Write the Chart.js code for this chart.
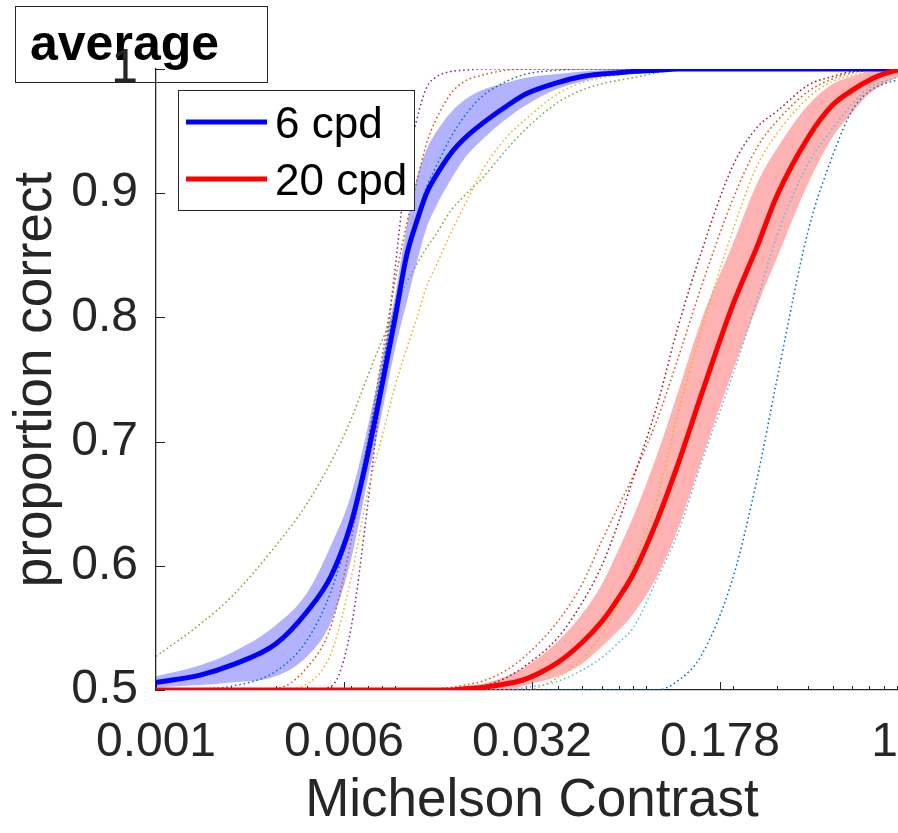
<!DOCTYPE html>
<html>
<head>
<meta charset="utf-8">
<title>average</title>
<script src="https://cdn.jsdelivr.net/npm/chart.js@4.4.1/dist/chart.umd.min.js"></script>
<style>
  html, body { margin: 0; padding: 0; overflow: hidden; background: #fff; }
  #wrap { width: 910px; height: 833px; }
</style>
</head>
<body>
<div id="wrap"><canvas id="psyChart" width="910" height="833"></canvas></div>
<script>
// ---- data ----
const panelTitle = "average";
const contrast = [0.001, 0.0015, 0.002, 0.003, 0.004, 0.005, 0.006, 0.007, 0.008, 0.009,
  0.01, 0.011, 0.012, 0.013, 0.015, 0.017, 0.02, 0.025, 0.03, 0.04,
  0.05, 0.06, 0.07, 0.08, 0.1, 0.12, 0.15, 0.2, 0.25, 0.3,
  0.4, 0.5, 0.6, 0.7, 0.8, 0.9, 1];

const xTickValues = [0.001, 0.0056234, 0.0316228, 0.1778279, 1];
const xTickLabels = ["0.001", "0.006", "0.032", "0.178", "1"];
const yTickValues = [0.5, 0.6, 0.7, 0.8, 0.9, 1];
const yTickLabels = ["0.5", "0.6", "0.7", "0.8", "0.9", "1"];

const legendLabels = ["6 cpd", "20 cpd"];

// 6 cpd: group mean and its band
const mean6 = [0.506, 0.512, 0.520, 0.537, 0.563, 0.592, 0.634, 0.690, 0.747, 0.800,
  0.850, 0.878, 0.900, 0.913, 0.932, 0.944, 0.956, 0.970, 0.980, 0.989,
  0.994, 0.996, 0.997, 0.998, 0.999, 1, 1, 1, 1, 1,
  1, 1, 1, 1, 1, 1, 1];
const upper6 = [0.511, 0.520, 0.530, 0.552, 0.578, 0.617, 0.657, 0.712, 0.768, 0.818,
  0.873, 0.913, 0.935, 0.948, 0.965, 0.975, 0.983, 0.989, 0.993, 0.996,
  0.998, 0.999, 1, 1, 1, 1, 1, 1, 1, 1,
  1, 1, 1, 1, 1, 1, 1];
const lower6 = [0.502, 0.504, 0.506, 0.511, 0.527, 0.555, 0.605, 0.670, 0.725, 0.775,
  0.812, 0.845, 0.872, 0.888, 0.911, 0.928, 0.943, 0.960, 0.971, 0.984,
  0.990, 0.994, 0.996, 0.997, 0.999, 1, 1, 1, 1, 1,
  1, 1, 1, 1, 1, 1, 1];

// 6 cpd: single observers
const sub6Blue = [0.500, 0.501, 0.503, 0.515, 0.540, 0.580, 0.635, 0.700, 0.760, 0.810,
  0.850, 0.880, 0.905, 0.920, 0.945, 0.962, 0.978, 0.990, 0.996, 0.999,
  1, 1, 1, 1, 1, 1, 1, 1, 1, 1,
  1, 1, 1, 1, 1, 1, 1];
const sub6Orange = [0.5, 0.5, 0.5, 0.501, 0.518, 0.552, 0.620, 0.700, 0.770, 0.830,
  0.875, 0.910, 0.940, 0.958, 0.980, 0.990, 0.995, 0.999, 1, 1,
  1, 1, 1, 1, 1, 1, 1, 1, 1, 1,
  1, 1, 1, 1, 1, 1, 1];
const sub6Yellow = [0.5, 0.5, 0.5, 0.5, 0.505, 0.530, 0.590, 0.660, 0.705, 0.745,
  0.775, 0.800, 0.825, 0.840, 0.868, 0.890, 0.918, 0.945, 0.960, 0.980,
  0.989, 0.993, 0.995, 0.997, 0.999, 1, 1, 1, 1, 1,
  1, 1, 1, 1, 1, 1, 1];
const sub6Purple = [0.5, 0.5, 0.5, 0.5, 0.5, 0.503, 0.550, 0.650, 0.750, 0.840,
  0.920, 0.960, 0.985, 0.993, 0.998, 0.999, 1, 1, 1, 1,
  1, 1, 1, 1, 1, 1, 1, 1, 1, 1,
  1, 1, 1, 1, 1, 1, 1];
const sub6Green = [0.527, 0.553, 0.575, 0.616, 0.650, 0.684, 0.718, 0.753, 0.782, 0.806,
  0.828, 0.843, 0.856, 0.866, 0.886, 0.898, 0.912, 0.935, 0.952, 0.973,
  0.983, 0.988, 0.991, 0.993, 0.997, 0.999, 1, 1, 1, 1,
  1, 1, 1, 1, 1, 1, 1];

// 20 cpd: group mean and its band
const mean20 = [0.5, 0.5, 0.5, 0.5, 0.5, 0.5, 0.5, 0.5, 0.5, 0.5,
  0.5, 0.5, 0.5, 0.5, 0.5, 0.501, 0.502, 0.505, 0.509, 0.522,
  0.538, 0.555, 0.574, 0.593, 0.637, 0.680, 0.738, 0.810, 0.857, 0.898,
  0.945, 0.971, 0.983, 0.991, 0.996, 0.999, 1];
const upper20 = [0.5, 0.5, 0.5, 0.5, 0.5, 0.5, 0.5, 0.5, 0.5, 0.5,
  0.5, 0.5, 0.5, 0.5, 0.501, 0.503, 0.505, 0.511, 0.519, 0.539,
  0.561, 0.585, 0.613, 0.639, 0.690, 0.738, 0.798, 0.859, 0.908, 0.936,
  0.971, 0.988, 0.994, 0.998, 0.999, 1, 1];
const lower20 = [0.5, 0.5, 0.5, 0.5, 0.5, 0.5, 0.5, 0.5, 0.5, 0.5,
  0.5, 0.5, 0.5, 0.5, 0.5, 0.5, 0.5, 0.5, 0.504, 0.511,
  0.521, 0.535, 0.548, 0.561, 0.592, 0.628, 0.685, 0.757, 0.809, 0.848,
  0.908, 0.945, 0.965, 0.980, 0.988, 0.993, 0.997];

// 20 cpd: single observers
const sub20LightBlue = [0.5, 0.5, 0.5, 0.5, 0.5, 0.5, 0.5, 0.5, 0.5, 0.5,
  0.5, 0.5, 0.5, 0.5, 0.5, 0.5, 0.5, 0.5, 0.502, 0.507,
  0.516, 0.526, 0.538, 0.550, 0.590, 0.625, 0.683, 0.754, 0.814, 0.866,
  0.924, 0.952, 0.972, 0.985, 0.990, 0.993, 0.996];
const sub20DarkRed = [0.5, 0.5, 0.5, 0.5, 0.5, 0.5, 0.5, 0.5, 0.5, 0.5,
  0.5, 0.5, 0.5, 0.5, 0.5, 0.501, 0.503, 0.510, 0.520, 0.542,
  0.570, 0.600, 0.635, 0.670, 0.730, 0.790, 0.853, 0.922, 0.953, 0.966,
  0.987, 0.994, 0.998, 0.999, 1, 1, 1];
const sub20Blue = [0.5, 0.5, 0.5, 0.5, 0.5, 0.5, 0.5, 0.5, 0.5, 0.5,
  0.5, 0.5, 0.5, 0.5, 0.5, 0.5, 0.5, 0.5, 0.5, 0.5,
  0.5, 0.5, 0.5, 0.5, 0.5, 0.507, 0.528, 0.590, 0.670, 0.750,
  0.870, 0.930, 0.967, 0.982, 0.988, 0.991, 0.994];
const sub20Orange = [0.5, 0.5, 0.5, 0.5, 0.5, 0.5, 0.5, 0.5, 0.5, 0.5,
  0.5, 0.5, 0.501, 0.501, 0.502, 0.504, 0.507, 0.516, 0.528, 0.555,
  0.585, 0.620, 0.648, 0.672, 0.718, 0.765, 0.825, 0.895, 0.937, 0.958,
  0.982, 0.992, 0.997, 0.999, 1, 1, 1];
const sub20Yellow = [0.5, 0.5, 0.5, 0.5, 0.5, 0.5, 0.5, 0.5, 0.5, 0.5,
  0.5, 0.5, 0.5, 0.5, 0.5, 0.5, 0.5, 0.5, 0.5, 0.510,
  0.525, 0.545, 0.570, 0.600, 0.655, 0.720, 0.790, 0.870, 0.922, 0.948,
  0.977, 0.990, 0.995, 0.998, 1, 1, 1];

// ---- styling ----
const FONT = '"Liberation Sans", Arial, Helvetica, sans-serif';
const AXIS = "#262626";
const C = {
  blue: "#0072BD", orange: "#D95319", yellow: "#EDB120", purple: "#7E2F8E",
  green: "#77AC30", lightBlue: "#4DBEEE", darkRed: "#A2142F"
};
const meanColors = ["#0000FF", "#FF0000"];

Chart.defaults.font.family = FONT;

const pts = ys => contrast.map((c, i) => ({ x: c, y: ys[i] }));

function line(ys, color, width, order, extra) {
  return Object.assign({
    data: pts(ys),
    borderColor: color,
    borderWidth: width,
    pointRadius: 0,
    fill: false,
    cubicInterpolationMode: "monotone",
    order: order
  }, extra || {});
}

function dotted(ys, color, order) {
  return line(ys, color, 1.5, order, { borderDash: [1.6, 2.8] });
}

const datasets = [
  // bands: lower edge, then upper edge filled down to it
  line(lower6, "transparent", 0, 5),
  line(upper6, "transparent", 0, 5, { fill: "-1", backgroundColor: "rgba(0,0,255,0.3)" }),
  line(lower20, "transparent", 0, 4),
  line(upper20, "transparent", 0, 4, { fill: "-1", backgroundColor: "rgba(255,0,0,0.3)" }),
  dotted(sub6Blue, C.blue, 3),
  dotted(sub6Orange, C.orange, 3),
  dotted(sub6Yellow, C.yellow, 3),
  dotted(sub6Purple, C.purple, 3),
  dotted(sub6Green, C.green, 3),
  dotted(sub20LightBlue, C.lightBlue, 2),
  dotted(sub20DarkRed, C.darkRed, 2),
  dotted(sub20Blue, C.blue, 2),
  dotted(sub20Orange, C.orange, 2),
  dotted(sub20Yellow, C.yellow, 2),
  line(mean6, meanColors[0], 5, 1),
  line(mean20, meanColors[1], 5, 0)
];

const decor = {
  id: "decor",
  beforeDraw(chart) {
    const ctx = chart.ctx;
    ctx.save();
    ctx.fillStyle = "#fff";
    ctx.fillRect(0, 0, chart.width, chart.height);
    // panel title box
    ctx.strokeStyle = AXIS;
    ctx.lineWidth = 1;
    ctx.strokeRect(15.5, 6.5, 252, 76);
    ctx.fillStyle = "#000";
    ctx.font = "bold 50px " + FONT;
    ctx.textBaseline = "alphabetic";
    ctx.textAlign = "left";
    ctx.fillText(panelTitle, 30, 60);
    ctx.restore();
  },
  beforeDatasetsDraw(chart) {
    const { ctx, chartArea: a, scales: { x, y } } = chart;
    ctx.save();
    ctx.strokeStyle = AXIS;
    ctx.lineWidth = 1;
    ctx.beginPath();
    yTickValues.forEach(v => {
      const py = Math.round(y.getPixelForValue(v)) + 0.5;
      ctx.moveTo(a.left, py);
      ctx.lineTo(a.left + 9, py);
    });
    xTickValues.forEach(v => {
      const px = Math.round(x.getPixelForValue(v)) + 0.5;
      ctx.moveTo(px, a.bottom);
      ctx.lineTo(px, a.bottom - 8);
    });
    // log minor ticks
    for (let k = -3; k < 0; k++) {
      for (let m = 2; m <= 9; m++) {
        const px = Math.round(x.getPixelForValue(m * Math.pow(10, k))) + 0.5;
        ctx.moveTo(px, a.bottom);
        ctx.lineTo(px, a.bottom - 4);
      }
    }
    ctx.stroke();

    // x tick labels, kept inside the visible window
    ctx.fillStyle = AXIS;
    ctx.font = "48px " + FONT;
    ctx.textAlign = "center";
    ctx.textBaseline = "alphabetic";
    xTickValues.forEach((v, i) => {
      const w = ctx.measureText(xTickLabels[i]).width;
      const px = Math.min(x.getPixelForValue(v), 898 - w / 2);
      ctx.fillText(xTickLabels[i], px, 756);
    });
    ctx.restore();
  },
  afterDraw(chart) {
    const ctx = chart.ctx;
    ctx.save();
    ctx.fillStyle = "#fff";
    ctx.fillRect(178.5, 90.5, 236, 120);
    ctx.strokeStyle = AXIS;
    ctx.lineWidth = 1;
    ctx.strokeRect(178.5, 90.5, 236, 120);
    ctx.font = "44px " + FONT;
    ctx.textAlign = "left";
    ctx.textBaseline = "alphabetic";
    legendLabels.forEach((lab, i) => {
      const ly = 122 + i * 57;
      ctx.strokeStyle = meanColors[i];
      ctx.lineWidth = 5;
      ctx.beginPath();
      ctx.moveTo(186, ly);
      ctx.lineTo(267, ly);
      ctx.stroke();
      ctx.fillStyle = "#000";
      ctx.fillText(lab, 275, ly + 16);
    });
    ctx.restore();
  }
};

new Chart(document.getElementById("psyChart"), {
  type: "line",
  data: { datasets },
  options: {
    responsive: false,
    animation: false,
    devicePixelRatio: 1,
    layout: { padding: { left: 0, top: 69, right: 2, bottom: 0 } },
    plugins: {
      legend: { display: false },
      tooltip: { enabled: false }
    },
    scales: {
      x: {
        type: "logarithmic",
        min: 0.001,
        max: 1,
        afterBuildTicks: s => { s.ticks = xTickValues.map(v => ({ value: v })); },
        afterFit: s => { s.height = 143; s.paddingLeft = 0; s.paddingRight = 0; },
        grid: { display: false, drawTicks: false },
        border: { display: true, color: AXIS, width: 1.3 },
        ticks: { display: false },
        title: {
          display: true,
          text: "Michelson Contrast",
          color: AXIS,
          font: { size: 53 },
          padding: { top: 0, bottom: 0 }
        }
      },
      y: {
        type: "linear",
        min: 0.5,
        max: 1,
        afterBuildTicks: s => { s.ticks = yTickValues.map(v => ({ value: v })); },
        afterFit: s => { s.width = 156; s.paddingTop = 0; s.paddingBottom = 0; },
        grid: { display: false, drawTicks: false },
        border: { display: true, color: AXIS, width: 1.3 },
        ticks: {
          color: AXIS,
          font: { size: 48 },
          padding: 18,
          callback: (v, i) => yTickLabels[i]
        },
        title: {
          display: true,
          text: "proportion correct",
          color: AXIS,
          font: { size: 53 },
          padding: { top: 5, bottom: 0 }
        }
      }
    }
  },
  plugins: [decor]
});
</script>
</body>
</html>
